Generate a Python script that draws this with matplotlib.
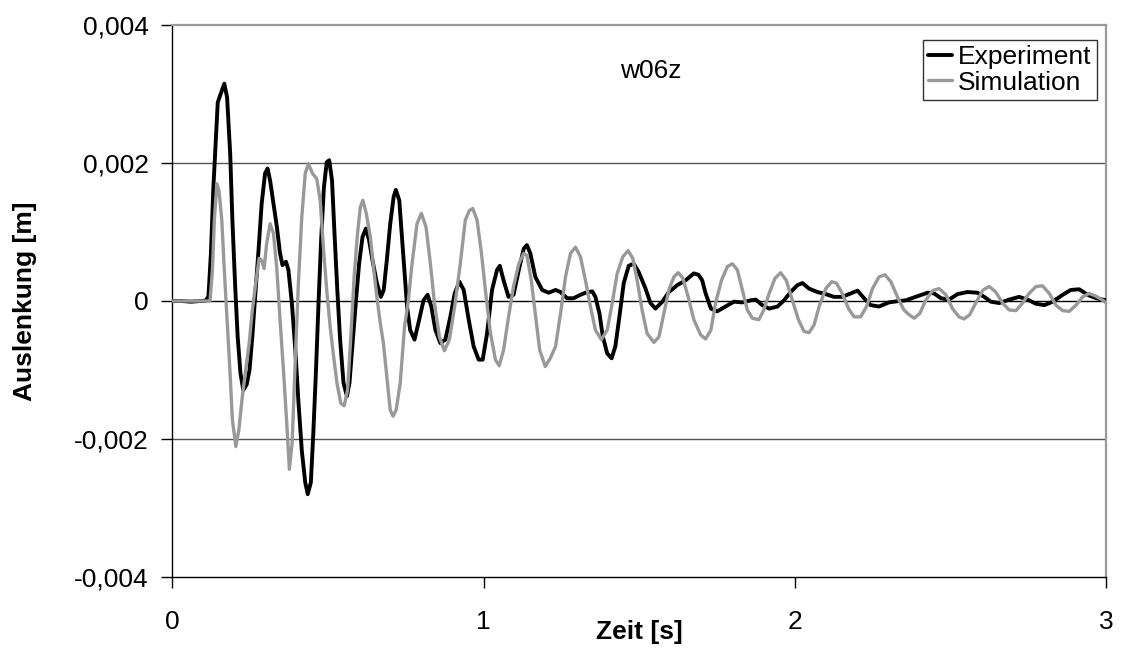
import numpy as np
import matplotlib
matplotlib.use("Agg")
import matplotlib.pyplot as plt
from matplotlib.ticker import FixedLocator

plt.rcParams['font.family'] = ['Liberation Sans', 'DejaVu Sans']

# Time axis [s] and displacement [mm] of the measured signal
exp_t = [0.000, 0.030, 0.060, 0.090, 0.105, 0.116, 0.124, 0.132, 0.140, 0.146,
         0.157, 0.167, 0.176, 0.186, 0.193, 0.202, 0.210, 0.219, 0.228, 0.239,
         0.248, 0.257, 0.266, 0.277, 0.287, 0.298, 0.306, 0.314, 0.325, 0.336,
         0.346, 0.354, 0.365, 0.373, 0.384, 0.395, 0.405, 0.416, 0.427, 0.435,
         0.445, 0.453, 0.462, 0.470, 0.478, 0.487, 0.496, 0.504, 0.513, 0.521,
         0.530, 0.539, 0.550, 0.561, 0.569, 0.579, 0.590, 0.600, 0.611, 0.622,
         0.632, 0.643, 0.657, 0.670, 0.679, 0.689, 0.700, 0.711, 0.718, 0.729,
         0.743, 0.754, 0.764, 0.778, 0.793, 0.807, 0.820, 0.832, 0.845, 0.861,
         0.877, 0.893, 0.907, 0.922, 0.936, 0.952, 0.968, 0.984, 0.997, 1.011,
         1.027, 1.043, 1.052, 1.064, 1.080, 1.096, 1.113, 1.129, 1.139, 1.150,
         1.166, 1.188, 1.209, 1.231, 1.247, 1.268, 1.289, 1.311, 1.327, 1.349,
         1.359, 1.372, 1.383, 1.397, 1.411, 1.423, 1.436, 1.450, 1.466, 1.482,
         1.498, 1.520, 1.536, 1.552, 1.574, 1.595, 1.622, 1.649, 1.675, 1.690,
         1.702, 1.713, 1.730, 1.750, 1.777, 1.804, 1.831, 1.858, 1.874, 1.895,
         1.917, 1.944, 1.965, 1.986, 2.008, 2.024, 2.045, 2.072, 2.099, 2.125,
         2.152, 2.179, 2.201, 2.222, 2.243, 2.270, 2.302, 2.334, 2.356, 2.388,
         2.426, 2.447, 2.469, 2.495, 2.522, 2.554, 2.586, 2.608, 2.629, 2.656,
         2.688, 2.720, 2.747, 2.774, 2.801, 2.828, 2.860, 2.886, 2.913, 2.940,
         2.967, 3.000]
exp_mm = [0.00, 0.00, -0.01, 0.00, 0.00, 0.06, 0.69, 1.65, 2.37, 2.88,
          3.02, 3.15, 2.95, 2.13, 1.17, 0.21, -0.52, -1.05, -1.29, -1.21,
          -1.00, -0.52, 0.06, 0.74, 1.41, 1.85, 1.92, 1.75, 1.41, 1.07,
          0.69, 0.52, 0.57, 0.45, -0.03, -0.70, -1.45, -2.17, -2.63, -2.80,
          -2.63, -1.91, -0.95, 0.01, 0.88, 1.65, 2.01, 2.04, 1.75, 0.98,
          0.16, -0.56, -1.19, -1.38, -1.19, -0.61, 0.01, 0.54, 0.93, 1.05,
          0.88, 0.59, 0.26, 0.06, 0.16, 0.59, 1.12, 1.51, 1.61, 1.46,
          0.60, -0.08, -0.42, -0.56, -0.27, 0.01, 0.09, -0.08, -0.42, -0.61,
          -0.56, -0.23, 0.11, 0.28, 0.16, -0.27, -0.66, -0.85, -0.85, -0.47,
          0.16, 0.45, 0.51, 0.30, 0.06, 0.09, 0.45, 0.76, 0.81, 0.69,
          0.35, 0.16, 0.12, 0.16, 0.13, 0.04, 0.04, 0.09, 0.12, 0.14,
          0.06, -0.18, -0.52, -0.76, -0.83, -0.66, -0.23, 0.26, 0.51, 0.54,
          0.42, 0.18, -0.03, -0.11, -0.01, 0.13, 0.23, 0.30, 0.40, 0.38,
          0.30, 0.11, -0.11, -0.15, -0.08, -0.01, -0.02, 0.01, 0.02, -0.06,
          -0.11, -0.08, 0.01, 0.13, 0.23, 0.26, 0.18, 0.13, 0.10, 0.06,
          0.06, 0.11, 0.15, 0.04, -0.06, -0.08, -0.02, 0.00, 0.01, 0.06,
          0.12, 0.11, 0.04, 0.02, 0.10, 0.13, 0.12, 0.06, -0.01, -0.03,
          0.02, 0.06, 0.02, -0.04, -0.06, -0.01, 0.09, 0.16, 0.17, 0.09,
          0.04, 0.01]

# Time axis [s] and displacement [mm] of the simulated signal
sim_t = [0.000, 0.121, 0.129, 0.135, 0.143, 0.150, 0.159, 0.167, 0.176, 0.185,
         0.193, 0.204, 0.214, 0.225, 0.236, 0.247, 0.257, 0.268, 0.279, 0.287,
         0.295, 0.303, 0.314, 0.325, 0.336, 0.346, 0.357, 0.368, 0.376, 0.385,
         0.395, 0.405, 0.416, 0.427, 0.437, 0.450, 0.464, 0.475, 0.486, 0.496,
         0.507, 0.518, 0.529, 0.541, 0.552, 0.563, 0.574, 0.584, 0.595, 0.604,
         0.612, 0.623, 0.636, 0.646, 0.657, 0.668, 0.678, 0.689, 0.700, 0.709,
         0.719, 0.732, 0.746, 0.758, 0.770, 0.786, 0.800, 0.815, 0.829, 0.842,
         0.858, 0.874, 0.890, 0.907, 0.925, 0.941, 0.954, 0.965, 0.979, 0.993,
         1.008, 1.022, 1.038, 1.050, 1.064, 1.080, 1.096, 1.113, 1.129, 1.139,
         1.153, 1.166, 1.180, 1.198, 1.214, 1.231, 1.247, 1.263, 1.279, 1.295,
         1.311, 1.327, 1.343, 1.359, 1.378, 1.397, 1.413, 1.429, 1.447, 1.464,
         1.479, 1.493, 1.509, 1.525, 1.547, 1.563, 1.579, 1.595, 1.611, 1.625,
         1.640, 1.657, 1.675, 1.697, 1.713, 1.730, 1.745, 1.764, 1.783, 1.799,
         1.815, 1.831, 1.847, 1.863, 1.884, 1.900, 1.917, 1.936, 1.954, 1.972,
         1.992, 2.011, 2.029, 2.045, 2.061, 2.079, 2.099, 2.118, 2.133, 2.152,
         2.172, 2.190, 2.211, 2.230, 2.249, 2.270, 2.289, 2.308, 2.329, 2.350,
         2.367, 2.383, 2.401, 2.420, 2.442, 2.463, 2.485, 2.506, 2.527, 2.543,
         2.561, 2.583, 2.604, 2.624, 2.645, 2.667, 2.688, 2.710, 2.731, 2.752,
         2.774, 2.795, 2.817, 2.838, 2.860, 2.881, 2.903, 2.924, 2.945, 2.967,
         2.989, 3.000]
sim_mm = [0.00, 0.00, 0.45, 1.17, 1.70, 1.60, 1.17, 0.45, -0.27, -1.00,
          -1.72, -2.11, -1.86, -1.38, -1.00, -0.61, -0.13, 0.26, 0.62, 0.59,
          0.47, 0.83, 1.12, 0.98, 0.45, -0.27, -1.00, -1.80, -2.44, -2.05,
          -0.85, 0.26, 1.22, 1.85, 1.99, 1.85, 1.77, 1.46, 0.74, 0.16,
          -0.37, -0.80, -1.19, -1.48, -1.52, -1.29, -0.47, 0.35, 0.98, 1.36,
          1.46, 1.27, 0.93, 0.50, 0.06, -0.32, -0.61, -1.09, -1.58, -1.67,
          -1.58, -1.19, -0.37, 0.00, 0.54, 1.12, 1.27, 1.07, 0.54, -0.03,
          -0.52, -0.72, -0.56, -0.08, 0.54, 1.17, 1.31, 1.34, 1.17, 0.69,
          0.06, -0.47, -0.85, -0.94, -0.71, -0.23, 0.21, 0.54, 0.69, 0.66,
          0.30, -0.18, -0.71, -0.95, -0.83, -0.66, -0.18, 0.35, 0.69, 0.78,
          0.64, 0.30, -0.08, -0.42, -0.56, -0.42, -0.03, 0.40, 0.64, 0.73,
          0.62, 0.30, -0.13, -0.47, -0.60, -0.52, -0.18, 0.16, 0.35, 0.41,
          0.33, 0.06, -0.27, -0.49, -0.55, -0.42, -0.03, 0.30, 0.50, 0.54,
          0.45, 0.16, -0.13, -0.25, -0.27, -0.13, 0.11, 0.33, 0.41, 0.30,
          0.01, -0.27, -0.44, -0.46, -0.35, -0.06, 0.18, 0.28, 0.26, 0.11,
          -0.11, -0.23, -0.23, -0.08, 0.18, 0.35, 0.38, 0.28, 0.06, -0.13,
          -0.20, -0.25, -0.18, 0.01, 0.15, 0.18, 0.09, -0.11, -0.23, -0.26,
          -0.20, -0.01, 0.16, 0.21, 0.13, -0.03, -0.13, -0.14, -0.03, 0.11,
          0.21, 0.22, 0.11, -0.06, -0.14, -0.15, -0.06, 0.06, 0.11, 0.07,
          0.01, -0.03]

x_ticks = [0, 1, 2, 3]
x_tick_labels = ["0", "1", "2", "3"]
y_ticks = [-0.004, -0.002, 0.0, 0.002, 0.004]
y_tick_labels = ["-0,004", "-0,002", "0", "0,002", "0,004"]

FS = 19

fig = plt.figure(figsize=(11.28, 6.5), dpi=100)
ax = fig.add_axes([172.3 / 1128, 73 / 650, 934 / 1128, 552 / 650])

ax.plot(exp_t, np.array(exp_mm) * 1e-3, color="black", lw=2.8,
        solid_joinstyle="round", solid_capstyle="round",
        label="Experiment", zorder=3)
ax.plot(sim_t, np.array(sim_mm) * 1e-3, color="#999999", lw=2.4,
        solid_joinstyle="round", solid_capstyle="round",
        label="Simulation", zorder=4)

ax.set_xlim(0, 3)
ax.set_ylim(-0.004, 0.004)
ax.xaxis.set_major_locator(FixedLocator(x_ticks))
ax.set_xticklabels(x_tick_labels)
ax.yaxis.set_major_locator(FixedLocator(y_ticks))
ax.set_yticklabels(y_tick_labels)

# horizontal gridlines
for yv in y_ticks[1:-1]:
    ax.axhline(yv, color="black" if yv == 0 else "#555555", lw=1.0, zorder=1)

for side in ("top", "right"):
    ax.spines[side].set_color("#999999")
    ax.spines[side].set_linewidth(1.6)
for side in ("left", "bottom"):
    ax.spines[side].set_color("black")
    ax.spines[side].set_linewidth(1.0)

ax.tick_params(axis="both", direction="out", length=8, width=1, colors="black",
               labelsize=FS)
ax.tick_params(axis="y", pad=9)
ax.tick_params(axis="x", pad=16)

ax.set_xlabel("Zeit [s]", fontsize=FS, fontweight="bold")
ax.xaxis.label.set_va("center")
ax.xaxis.set_label_coords(0.5, -0.10)
ax.set_ylabel("Auslenkung [m]", fontsize=FS, fontweight="bold")
ax.yaxis.label.set_va("center")
ax.yaxis.set_label_coords(-0.158, 0.5)

ax.text(0.512, 0.917, "w06z", transform=ax.transAxes, ha="center", va="center",
        fontsize=FS)

leg = ax.legend(loc="upper right", bbox_to_anchor=(0.990, 0.973),
                fontsize=FS, frameon=True, fancybox=False, borderpad=0.2,
                handlelength=0.9, handletextpad=0.25, labelspacing=0.05,
                borderaxespad=0)
leg.get_frame().set_edgecolor("black")
leg.get_frame().set_linewidth(1.0)

fig.savefig("out.png", dpi=100)
